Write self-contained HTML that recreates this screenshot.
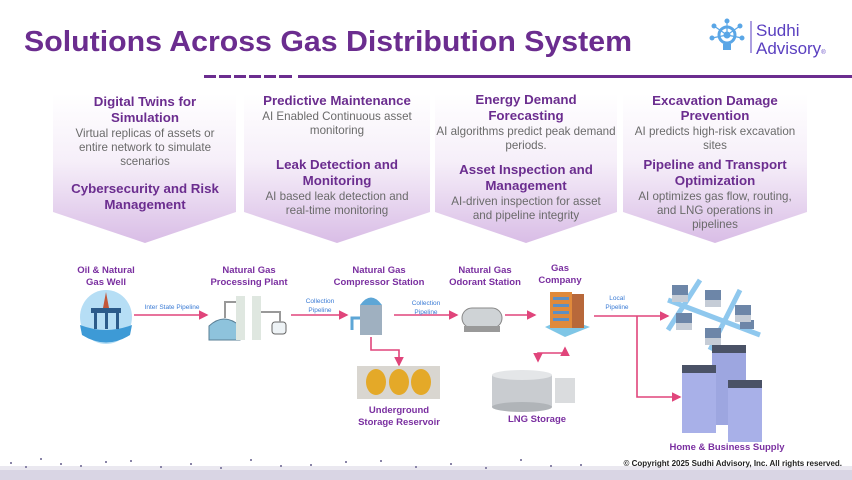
<!DOCTYPE html>
<html><head><meta charset="utf-8"><style>
html,body{margin:0;padding:0;background:#fff;}
svg{display:block;font-family:"Liberation Sans",sans-serif;}
.h{font-weight:bold;fill:#6b2d8f;font-size:13.3px;text-anchor:middle;}
.b{fill:#6a6a6a;font-size:11.6px;text-anchor:middle;}
.l{font-weight:bold;fill:#7a2fa0;font-size:9.5px;text-anchor:middle;}
.p{fill:#3a7bd5;font-size:6.5px;text-anchor:middle;}
.a{stroke:#e0457b;stroke-width:1.6;fill:none;}
</style></head><body>
<svg width="852" height="480" viewBox="0 0 852 480" xmlns="http://www.w3.org/2000/svg">
<defs>
<linearGradient id="g" x1="0" y1="0" x2="0" y2="1">
<stop offset="0" stop-color="#ffffff"/><stop offset="0.45" stop-color="#f6eff9"/><stop offset="1" stop-color="#d9bde6"/></linearGradient>
<marker id="m" markerWidth="6" markerHeight="6" refX="5" refY="3" orient="auto"><path d="M0,0 L6,3 L0,6 z" fill="#e0457b"/></marker>
<marker id="ms" markerWidth="6" markerHeight="6" refX="1" refY="3" orient="auto"><path d="M6,0 L0,3 L6,6 z" fill="#e0457b"/></marker>
</defs>
<text x="24" y="51" font-size="29" font-weight="bold" fill="#6b2d8f" textLength="608" lengthAdjust="spacingAndGlyphs">Solutions Across Gas Distribution System</text>
<!-- logo -->
<g fill="#5aa6e6" stroke="#5aa6e6">
<circle cx="727" cy="35" r="8" fill="none" stroke-width="3"/>
<circle cx="727" cy="35" r="3"/>
<g stroke-width="1.2"><line x1="727" y1="35" x2="714" y2="26"/><line x1="727" y1="35" x2="740" y2="26"/><line x1="727" y1="35" x2="712" y2="38"/><line x1="727" y1="35" x2="742" y2="38"/><line x1="727" y1="35" x2="727" y2="21"/></g>
<circle cx="714" cy="26" r="2"/><circle cx="740" cy="26" r="2"/><circle cx="712" cy="38" r="2"/><circle cx="742" cy="38" r="2"/><circle cx="727" cy="21" r="2"/>
<rect x="723" y="44" width="8" height="6" stroke="none"/>
</g>
<line x1="751" y1="21" x2="751" y2="53" stroke="#5a3fc0" stroke-width="1"/>
<text x="756" y="36" font-size="17" fill="#5a3fc0">Sudhi</text>
<text x="756" y="54" font-size="17" fill="#5a3fc0">Advisory<tspan font-size="6">®</tspan></text>
<!-- rule -->
<g fill="#6b2d8f"><rect x="204" y="75" width="12" height="3"/><rect x="219" y="75" width="12" height="3"/><rect x="234" y="75" width="12" height="3"/><rect x="249" y="75" width="12" height="3"/><rect x="264" y="75" width="12" height="3"/><rect x="279" y="75" width="13" height="3"/><rect x="298" y="75" width="554" height="3"/></g>
<!-- chevrons -->
<g fill="url(#g)">
<path d="M53,94 H236 V212 L145,243 L53,212 Z"/>
<path d="M244,94 H430 V212 L337,243 L244,212 Z"/>
<path d="M435,94 H617 V212 L526,243 L435,212 Z"/>
<path d="M623,94 H807 V212 L715,243 L623,212 Z"/>
</g>
<text class="h" x="145" y="106">Digital Twins for</text>
<text class="h" x="145" y="122">Simulation</text>
<text class="b" x="145" y="137">Virtual replicas of assets or</text>
<text class="b" x="145" y="151">entire network to simulate</text>
<text class="b" x="145" y="165">scenarios</text>
<text class="h" x="145" y="193">Cybersecurity and Risk</text>
<text class="h" x="145" y="209">Management</text>

<text class="h" x="337" y="105">Predictive Maintenance</text>
<text class="b" x="337" y="120">AI Enabled Continuous asset</text>
<text class="b" x="337" y="134">monitoring</text>
<text class="h" x="337" y="169">Leak Detection and</text>
<text class="h" x="337" y="185">Monitoring</text>
<text class="b" x="337" y="200">AI based leak detection and</text>
<text class="b" x="337" y="214">real-time monitoring</text>

<text class="h" x="526" y="104">Energy Demand</text>
<text class="h" x="526" y="120">Forecasting</text>
<text class="b" x="526" y="135">AI algorithms predict peak demand</text>
<text class="b" x="526" y="149">periods.</text>
<text class="h" x="526" y="174">Asset Inspection and</text>
<text class="h" x="526" y="190">Management</text>
<text class="b" x="526" y="205">AI-driven inspection for asset</text>
<text class="b" x="526" y="219">and pipeline integrity</text>

<text class="h" x="715" y="105">Excavation Damage</text>
<text class="h" x="715" y="120">Prevention</text>
<text class="b" x="715" y="135">AI predicts high-risk excavation</text>
<text class="b" x="715" y="149">sites</text>
<text class="h" x="715" y="169">Pipeline and Transport</text>
<text class="h" x="715" y="185">Optimization</text>
<text class="b" x="715" y="200">AI optimizes gas flow, routing,</text>
<text class="b" x="715" y="214">and LNG operations in</text>
<text class="b" x="715" y="228">pipelines</text>

<!-- labels -->
<text class="l" x="106" y="273">Oil &amp; Natural</text><text class="l" x="106" y="285">Gas Well</text>
<text class="l" x="249" y="273">Natural Gas</text><text class="l" x="249" y="285">Processing Plant</text>
<text class="l" x="379" y="273">Natural Gas</text><text class="l" x="379" y="285">Compressor Station</text>
<text class="l" x="485" y="273">Natural Gas</text><text class="l" x="485" y="285">Odorant Station</text>
<text class="l" x="560" y="271">Gas</text><text class="l" x="560" y="283">Company</text>
<text class="l" x="399" y="413">Underground</text><text class="l" x="399" y="425">Storage Reservoir</text>
<text class="l" x="537" y="422">LNG Storage</text>

<!-- arrows -->
<line class="a" x1="134" y1="315" x2="207" y2="315" marker-end="url(#m)"/>
<text class="p" x="172" y="309">Inter State Pipeline</text>
<line class="a" x1="291" y1="315" x2="347" y2="315" marker-end="url(#m)"/>
<text class="p" x="320" y="303">Collection</text><text class="p" x="320" y="312">Pipeline</text>
<line class="a" x1="394" y1="315" x2="457" y2="315" marker-end="url(#m)"/>
<text class="p" x="426" y="305">Collection</text><text class="p" x="426" y="314">Pipeline</text>
<line class="a" x1="505" y1="315" x2="535" y2="315" marker-end="url(#m)"/>
<line class="a" x1="594" y1="316" x2="668" y2="316" marker-end="url(#m)"/>
<text class="p" x="617" y="300">Local</text><text class="p" x="617" y="309">Pipeline</text>
<path class="a" d="M637,316 V397 H680" marker-end="url(#m)"/>
<path class="a" d="M371,337 V350 H399 V365" marker-end="url(#m)"/>
<path class="a" d="M565,348 V353 H538 V361" marker-start="url(#ms)" marker-end="url(#m)"/>

<!-- well -->
<ellipse cx="106" cy="317" rx="26" ry="27" fill="#b6def5"/>
<path d="M80,325 Q106,335 132,325 L130,335 Q106,350 82,335Z" fill="#3d9ad6"/>
<rect x="91" y="308" width="30" height="5" fill="#2c5b8a"/><rect x="94" y="313" width="3" height="16" fill="#2c5b8a"/><rect x="105" y="313" width="3" height="16" fill="#2c5b8a"/><rect x="116" y="313" width="3" height="16" fill="#2c5b8a"/>
<path d="M103,308 L106,292 L109,308Z" fill="#c2573a"/>
<!-- processing plant -->
<path d="M209,340 V326 Q224,312 240,326 V340Z" fill="#8ec3dc" stroke="#5a7f95"/>
<rect x="236" y="296" width="9" height="44" fill="#dfe7e0"/><rect x="252" y="296" width="9" height="44" fill="#dfe7e0"/>
<rect x="272" y="322" width="14" height="12" rx="3" fill="#eef3f6" stroke="#666"/>
<path d="M225,318 V302 H236 M261,312 H280 V322" stroke="#999" stroke-width="2" fill="none"/>
<!-- compressor -->
<rect x="360" y="305" width="22" height="30" fill="#9fb0c0"/><path d="M360,305 Q371,290 382,305Z" fill="#5da6d6"/><path d="M352,330 V318 H360" stroke="#5da6d6" stroke-width="3" fill="none"/>
<!-- odorant -->
<rect x="462" y="308" width="40" height="20" rx="10" fill="#cfd3d6" stroke="#888"/><rect x="464" y="326" width="36" height="6" fill="#999"/>
<!-- gas company -->
<path d="M545,327 L565,337 L590,327 L565,318Z" fill="#7fc6e6"/>
<rect x="550" y="292" width="22" height="36" fill="#e08a3b"/><rect x="572" y="294" width="12" height="34" fill="#b8683a"/>
<g fill="#5c8fc4"><rect x="553" y="297" width="16" height="3"/><rect x="553" y="304" width="16" height="3"/><rect x="553" y="311" width="16" height="3"/><rect x="553" y="318" width="16" height="3"/></g>
<!-- reservoir -->
<rect x="357" y="366" width="83" height="33" fill="#d9d6d0"/>
<ellipse cx="376" cy="382" rx="10" ry="13" fill="#e4a928"/><ellipse cx="399" cy="382" rx="10" ry="13" fill="#e4a928"/><ellipse cx="421" cy="382" rx="10" ry="13" fill="#e4a928"/>
<!-- LNG -->
<rect x="492" y="375" width="60" height="32" fill="#c9ccd0"/><ellipse cx="522" cy="375" rx="30" ry="5" fill="#e4e6e8"/><ellipse cx="522" cy="407" rx="30" ry="5" fill="#b0b4b8"/>
<rect x="555" y="378" width="20" height="25" fill="#dadcde"/>
<!-- houses -->
<path d="M668,300 L760,335 M700,280 L668,330 M740,290 L710,350" stroke="#8fc8ee" stroke-width="5"/>
<g fill="#6d86a8"><rect x="672" y="285" width="16" height="10"/><rect x="705" y="290" width="16" height="10"/><rect x="735" y="305" width="16" height="10"/><rect x="676" y="313" width="16" height="10"/><rect x="705" y="328" width="16" height="10"/><rect x="740" y="320" width="14" height="9"/></g>
<g fill="#c5ccd6"><rect x="672" y="295" width="16" height="7"/><rect x="705" y="300" width="16" height="7"/><rect x="735" y="315" width="16" height="7"/><rect x="676" y="323" width="16" height="7"/><rect x="705" y="338" width="16" height="7"/></g>
<!-- buildings -->
<rect x="712" y="345" width="34" height="80" fill="#9da6e0"/><rect x="682" y="365" width="34" height="68" fill="#a8b0e8"/><rect x="728" y="380" width="34" height="62" fill="#a8b0e8"/>
<rect x="712" y="345" width="34" height="8" fill="#4a5266"/><rect x="682" y="365" width="34" height="8" fill="#4a5266"/><rect x="728" y="380" width="34" height="8" fill="#4a5266"/>
<text class="l" x="727" y="450">Home &amp; Business Supply</text>
<!-- footer -->
<rect x="0" y="470" width="852" height="10" fill="#c9c3d8" opacity="0.7"/>
<rect x="0" y="466" width="852" height="4" fill="#dcd8e6" opacity="0.6"/>
<g fill="#8a85a8">
<rect x="10" y="462" width="2" height="2"/><rect x="25" y="466" width="2" height="2"/><rect x="40" y="458" width="2" height="2"/><rect x="60" y="463" width="2" height="2"/><rect x="80" y="465" width="2" height="2"/><rect x="105" y="461" width="2" height="2"/><rect x="130" y="460" width="2" height="2"/><rect x="160" y="466" width="2" height="2"/><rect x="190" y="463" width="2" height="2"/><rect x="220" y="467" width="2" height="2"/><rect x="250" y="459" width="2" height="2"/><rect x="280" y="465" width="2" height="2"/><rect x="310" y="464" width="2" height="2"/><rect x="345" y="461" width="2" height="2"/><rect x="380" y="460" width="2" height="2"/><rect x="415" y="466" width="2" height="2"/><rect x="450" y="463" width="2" height="2"/><rect x="485" y="467" width="2" height="2"/><rect x="520" y="459" width="2" height="2"/><rect x="550" y="465" width="2" height="2"/><rect x="580" y="464" width="2" height="2"/></g>
<text x="842" y="466" font-size="8" font-weight="bold" fill="#222" text-anchor="end">© Copyright 2025 Sudhi Advisory, Inc. All rights reserved.</text>
</svg>
</body></html>
